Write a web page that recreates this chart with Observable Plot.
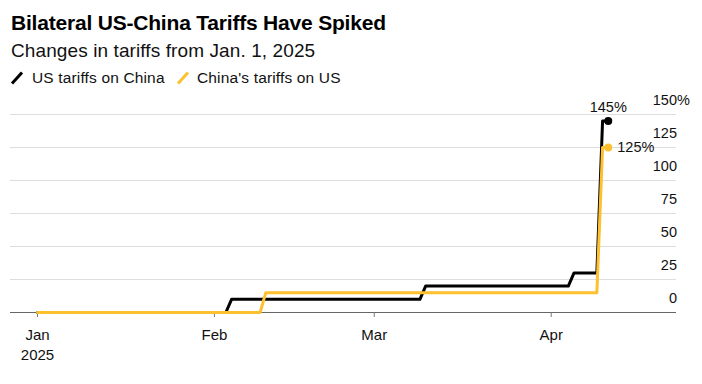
<!DOCTYPE html>
<html><head><meta charset="utf-8">
<script src="https://cdn.jsdelivr.net/npm/d3@7"></script>
<script src="https://cdn.jsdelivr.net/npm/@observablehq/plot@0.6"></script>
<style>
body{margin:0;background:#fff;font-family:"Liberation Sans",Arial,sans-serif;color:#000}
#wrap{position:relative;width:702px;height:384px;overflow:hidden;background:#fff}
.abs{position:absolute;white-space:nowrap;line-height:1}
#title{left:11px;top:11.5px;font-size:21px;font-weight:bold;letter-spacing:-0.2px}
#sub{left:11px;top:41.2px;font-size:19px;color:#111;letter-spacing:0.1px}
.leg{top:70.2px;font-size:15.5px;color:#111;letter-spacing:0.15px}
#chart{position:absolute;left:0;top:90px}
</style></head><body>
<div id="wrap">
<div class="abs" id="title">Bilateral US-China Tariffs Have Spiked</div>
<div class="abs" id="sub">Changes in tariffs from Jan. 1, 2025</div>
<div id="legend"></div>
<div id="chart"></div>
</div>
<script>
// ---- data ----
const seriesNames = ["US tariffs on China", "China's tariffs on US"];
const usDates  = ["2025-01-01","2025-02-03","2025-02-04","2025-03-09","2025-03-10","2025-04-04","2025-04-05","2025-04-09","2025-04-10","2025-04-11"];
const usValues = [0, 0, 10, 10, 20, 20, 30, 30, 145, 145];
const cnDates  = ["2025-01-01","2025-02-09","2025-02-10","2025-04-09","2025-04-10","2025-04-11"];
const cnValues = [0, 0, 15, 15, 125, 125];
const xTicks = ["2025-01-01","2025-02-01","2025-03-01","2025-04-01"];
const xTickLabels = ["Jan\n2025", "Feb", "Mar", "Apr"];
const yTicks = [0, 25, 50, 75, 100, 125, 150];
const yTickLabels = ["0", "25", "50", "75", "100", "125", "150"];
const yUnit = "%";

// ---- styles ----
const colors = ["#000000", "#fdc02f"];
const font = "'Liberation Sans', Arial, sans-serif";

const usData = usDates.map((d, i) => ({date: new Date(d), value: usValues[i]}));
const cnData = cnDates.map((d, i) => ({date: new Date(d), value: cnValues[i]}));
const xTickDates = xTicks.map(d => new Date(d));

// legend
const legendPos = [{sym: 10, txt: 32}, {sym: 176, txt: 197}];
const legend = document.getElementById("legend");
seriesNames.forEach((name, i) => {
  const p = legendPos[i];
  legend.insertAdjacentHTML("beforeend",
    `<svg class="abs" style="left:${p.sym}px;top:71px" width="15" height="14"><line x1="2" y1="12.5" x2="12" y2="1.5" stroke="${colors[i]}" stroke-width="3"/></svg>` +
    `<div class="abs leg" style="left:${p.txt}px">${name}</div>`);
});

const usLast = usData[usData.length - 1];
const cnLast = cnData[cnData.length - 1];

const chart = Plot.plot({
  width: 702, height: 294,
  marginLeft: 10, marginRight: 26, marginTop: 24, marginBottom: 72,
  x: {type: "utc", domain: [xTickDates[0], xTickDates[3]], range: [37, 550.7]},
  y: {domain: [0, 150], range: [222, 24], axis: null},
  style: {fontFamily: font, fontSize: "15px", color: "#111", background: "#fff", overflow: "visible"},
  marks: [
    Plot.ruleY(yTicks.filter(v => v > 0), {stroke: "#dddddd", strokeWidth: 1}),
    Plot.ruleY([0], {stroke: "#666", strokeWidth: 1.2}),
    Plot.axisX(xTickDates, {
      tickSize: 5, tickPadding: 9, stroke: "#777", fill: "#111", fontSize: 15, lineHeight: 1.3,
      tickFormat: d => xTickLabels[xTickDates.findIndex(t => +t === +d)]
    }),
    Plot.text(yTicks, {y: d => d, text: (d, i) => yTickLabels[i], frameAnchor: "right", textAnchor: "end", dx: 0.5, dy: -14, fontSize: 14.5, fill: "#111"}),
    Plot.text([yTicks[yTicks.length - 1]], {y: d => d, text: [yUnit], frameAnchor: "right", textAnchor: "start", dx: 0.5, dy: -14, fontSize: 14.5, fill: "#111"}),
    Plot.line(usData, {x: "date", y: "value", stroke: colors[0], strokeWidth: 3}),
    Plot.line(cnData, {x: "date", y: "value", stroke: colors[1], strokeWidth: 3}),
    Plot.dot([usLast], {x: "date", y: "value", fill: colors[0], r: 4}),
    Plot.dot([cnLast], {x: "date", y: "value", fill: colors[1], r: 4}),
    Plot.text([usLast], {x: "date", y: "value", text: d => d.value + yUnit, dy: -13.5, fontSize: 14.5, fill: "#111"}),
    Plot.text([cnLast], {x: "date", y: "value", text: d => d.value + yUnit, textAnchor: "start", dx: 9, fontSize: 14.5, fill: "#111"})
  ]
});
document.getElementById("chart").appendChild(chart);
</script>
</body></html>
